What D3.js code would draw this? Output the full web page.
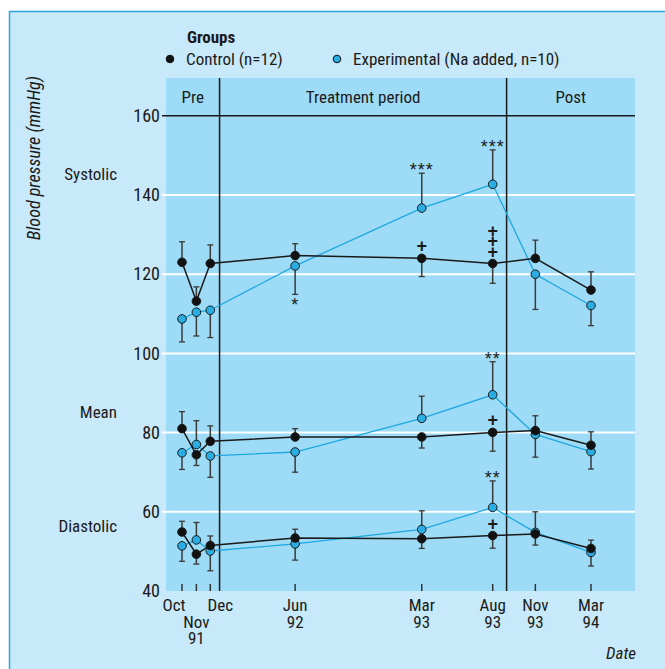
<!DOCTYPE html>
<html>
<head>
<meta charset="utf-8">
<script src="https://cdn.jsdelivr.net/npm/d3@7"></script>
<style>
  body { margin: 0; background: #fff; }
  svg text { font-family: "Liberation Sans Narrow", "Arial Narrow", "Roboto Condensed", sans-serif; fill: #1a1a1a; }
</style>
</head>
<body>
<div id="chart"></div>
<script>
/* Blood pressure of control vs experimental groups, Oct 91 - Mar 94 */

// dates of the measurements
var dates = ["1991-10", "1991-11", "1991-12", "1992-06", "1993-03", "1993-08", "1993-11", "1994-03"];

// x tick labels, one list of lines per date ("" = empty row)
var tickLabels = [["Oct"], ["", "Nov", "91"], ["Dec"], ["Jun", "92"], ["Mar", "93"], ["Aug", "93"], ["Nov", "93"], ["Mar", "94"]];

var yTicks = [40, 60, 80, 100, 120, 140, 160];

// period boundaries and names
var periodBreaks = ["1991-12-21", "1993-08-31"];
var periodNames = ["Pre", "Treatment period", "Post"];

// systolic
var sysControl = [123.0, 113.2, 122.7, 124.7, 124.0, 122.7, 124.0, 116.0];
var sysControlSem = [5.2, 3.6, 4.7, 3.0, 4.6, 5.0, 4.6, 4.6];
var sysExp = [108.7, 110.4, 110.9, 122.1, 136.7, 142.7, 120.0, 112.1];
var sysExpSem = [5.8, 6.0, 6.9, 7.2, 8.8, 8.7, 8.9, 5.1];

// mean
var meanControl = [81.0, 74.4, 77.8, 78.9, 78.9, 80.05, 80.5, 76.8];
var meanControlSem = [4.3, 2.7, 3.9, 2.1, 2.8, 4.75, 3.75, 3.4];
var meanExp = [74.9, 77.0, 74.1, 75.1, 83.6, 89.55, 79.55, 75.2];
var meanExpSem = [4.2, 6.0, 5.4, 5.1, 5.6, 8.35, 5.75, 4.4];

// diastolic
var diaControl = [54.9, 49.3, 51.5, 53.4, 53.2, 54.0, 54.4, 50.75];
var diaControlSem = [2.7, 2.5, 2.4, 2.2, 2.45, 3.2, 2.8, 2.1];
var diaExp = [51.4, 52.9, 50.1, 51.9, 55.55, 61.1, 54.8, 49.75];
var diaExpSem = [3.9, 4.4, 5.0, 4.1, 4.7, 6.7, 5.2, 3.45];

var rowNames = ["Systolic", "Mean", "Diastolic"];

// significance marks: * = vs control, + = vs baseline
var expMarks = [{row: 0, i: 3, text: "*"}, {row: 0, i: 4, text: "***"}, {row: 0, i: 5, text: "***"},
                {row: 1, i: 5, text: "**"}, {row: 2, i: 5, text: "**"}];
var controlMarks = [{row: 0, i: 4, n: 1}, {row: 0, i: 5, n: 3}, {row: 1, i: 5, n: 1}, {row: 2, i: 5, n: 1}];

var legendNames = ["Control (n=12)", "Experimental (Na added, n=10)"];

// colours
var panelFill = "#c8e9f9", plotFill = "#9ddbf6", blue = "#1ea8e1", dotBlue = "#2aade3";

var W = 665, H = 669;
var plot = {left: 166, right: 635, top: 78, bottom: 591};

var parseMonth = d3.timeParse("%Y-%m");
var parseDay = d3.timeParse("%Y-%m-%d");
var dateVals = dates.map(parseMonth);

var x = d3.scaleTime()
    .domain([dateVals[0], dateVals[dateVals.length - 1]])
    .range([182, 591]);
var y = d3.scaleLinear().domain([40, 160]).range([591, 115.8]);

var svg = d3.select("#chart").append("svg")
    .attr("width", W)
    .attr("height", H);

// outer panel
svg.append("rect")
    .attr("x", 9.5).attr("y", 11.5)
    .attr("width", 700).attr("height", 700)
    .attr("fill", panelFill)
    .attr("stroke", "#2aa7df")
    .attr("stroke-width", 1.5);

// plot area (including header band)
svg.append("rect")
    .attr("x", plot.left).attr("y", plot.top)
    .attr("width", plot.right - plot.left)
    .attr("height", plot.bottom - plot.top)
    .attr("fill", plotFill);

// white gridlines
svg.append("g").selectAll("line")
    .data(yTicks.filter(function(d) { return d > 40 && d < 160; }))
    .enter().append("line")
    .attr("x1", 162).attr("x2", plot.right)
    .attr("y1", function(d) { return y(d); })
    .attr("y2", function(d) { return y(d); })
    .attr("stroke", "#fff")
    .attr("stroke-width", 2);

// header line at 160
svg.append("line")
    .attr("x1", 162).attr("x2", plot.right)
    .attr("y1", y(160)).attr("y2", y(160))
    .attr("stroke", "#1a1a1a").attr("stroke-width", 1.5);

// period dividers
var breaks = periodBreaks.map(parseDay);
svg.append("g").selectAll("line")
    .data(breaks)
    .enter().append("line")
    .attr("x1", function(d) { return x(d); })
    .attr("x2", function(d) { return x(d); })
    .attr("y1", plot.top).attr("y2", plot.bottom)
    .attr("stroke", "#1a1a1a").attr("stroke-width", 1.5);

// period names
var edges = [plot.left, x(breaks[0]), x(breaks[1]), plot.right];
svg.append("g").selectAll("text")
    .data(periodNames)
    .enter().append("text")
    .attr("x", function(d, i) { return (edges[i] + edges[i + 1]) / 2; })
    .attr("y", 103)
    .attr("text-anchor", "middle")
    .style("font-size", "17px")
    .text(function(d) { return d; });

// Y axis labels
var yAxis = svg.append("g")
    .attr("transform", "translate(" + 166 + ",0)")
    .call(d3.axisLeft(y).tickValues(yTicks).tickSize(0).tickPadding(6));
yAxis.select(".domain").remove();
yAxis.selectAll("text")
    .style("font-size", "18px")
    .style("font-family", null);

// bottom ticks
svg.append("g").selectAll("line")
    .data(dateVals)
    .enter().append("line")
    .attr("x1", function(d) { return x(d); })
    .attr("x2", function(d) { return x(d); })
    .attr("y1", plot.bottom - 7).attr("y2", plot.bottom)
    .attr("stroke", "#333").attr("stroke-width", 1.5);

// x tick labels
var labelShift = [-8, 0, 10, 0, 0, 0, 0, 0];
var xLab = svg.append("g").selectAll("text")
    .data(tickLabels)
    .enter().append("text")
    .attr("x", function(d, i) { return x(dateVals[i]) + labelShift[i]; })
    .attr("y", 611)
    .attr("text-anchor", "middle")
    .style("font-size", "17px");
xLab.each(function(lines) {
  var t = d3.select(this);
  lines.forEach(function(s, k) {
    t.append("tspan")
        .attr("x", t.attr("x"))
        .attr("y", 611 + k * 16.5)
        .text(s);
  });
});

// axis titles
svg.append("text")
    .attr("transform", "translate(40,158) rotate(-90)")
    .attr("text-anchor", "middle")
    .style("font-size", "18px")
    .style("font-style", "italic")
    .text("Blood pressure (mmHg)");

svg.append("text")
    .attr("x", 636).attr("y", 659)
    .attr("text-anchor", "end")
    .style("font-size", "17px")
    .style("font-style", "italic")
    .text("Date");

// row labels
var rowY = [180, 418, 532];
svg.append("g").selectAll("text")
    .data(rowNames)
    .enter().append("text")
    .attr("x", 117)
    .attr("y", function(d, i) { return rowY[i]; })
    .attr("text-anchor", "end")
    .style("font-size", "17px")
    .text(function(d) { return d; });

// legend
svg.append("text")
    .attr("x", 187).attr("y", 43)
    .style("font-size", "17px")
    .style("font-weight", "bold")
    .text("Groups");
var legX = [170, 337];
var leg = svg.append("g").selectAll("g")
    .data(legendNames)
    .enter().append("g")
    .attr("transform", function(d, i) { return "translate(" + legX[i] + ",59)"; });
leg.append("circle")
    .attr("r", 3.8)
    .attr("fill", function(d, i) { return i ? dotBlue : "#111"; })
    .attr("stroke", "#111")
    .attr("stroke-width", 1);
leg.append("text")
    .attr("x", 16).attr("y", 6)
    .style("font-size", "17px")
    .text(function(d) { return d; });

// series
var rows = [
  {control: sysControl, cSem: sysControlSem, exp: sysExp, eSem: sysExpSem},
  {control: meanControl, cSem: meanControlSem, exp: meanExp, eSem: meanExpSem},
  {control: diaControl, cSem: diaControlSem, exp: diaExp, eSem: diaExpSem}
];

var line = d3.line()
    .x(function(d, i) { return x(dateVals[i]); })
    .y(function(d) { return y(d); });

// the higher group's error bar points up, the lower one down
function barEnd(vals, sem, other, i) {
  return vals[i] >= other[i] ? vals[i] + sem[i] : vals[i] - sem[i];
}

rows.forEach(function(r) {
  var g = svg.append("g");
  var groups = [
    {vals: r.exp, sem: r.eSem, other: r.control, color: blue, fill: dotBlue, width: 1.3},
    {vals: r.control, sem: r.cSem, other: r.exp, color: "#1a1a1a", fill: "#111", width: 1.5}
  ];

  // error bars
  groups.forEach(function(s) {
    var eb = g.append("g").selectAll("g")
        .data(s.vals)
        .enter().append("g");
    eb.append("line")
        .attr("x1", function(d, i) { return x(dateVals[i]); })
        .attr("x2", function(d, i) { return x(dateVals[i]); })
        .attr("y1", function(d) { return y(d); })
        .attr("y2", function(d, i) { return y(barEnd(s.vals, s.sem, s.other, i)); })
        .attr("stroke", "#3a3a3a").attr("stroke-width", 1.5);
    eb.append("line")
        .attr("x1", function(d, i) { return x(dateVals[i]) - 3; })
        .attr("x2", function(d, i) { return x(dateVals[i]) + 3; })
        .attr("y1", function(d, i) { return y(barEnd(s.vals, s.sem, s.other, i)); })
        .attr("y2", function(d, i) { return y(barEnd(s.vals, s.sem, s.other, i)); })
        .attr("stroke", "#3a3a3a").attr("stroke-width", 1.3);
  });

  // lines
  groups.forEach(function(s) {
    g.append("path")
        .datum(s.vals)
        .attr("fill", "none")
        .attr("stroke", s.color)
        .attr("stroke-width", s.width)
        .attr("d", line);
  });

  // markers
  groups.forEach(function(s) {
    g.append("g").selectAll("circle")
        .data(s.vals)
        .enter().append("circle")
        .attr("cx", function(d, i) { return x(dateVals[i]); })
        .attr("cy", function(d) { return y(d); })
        .attr("r", 4.3)
        .attr("fill", s.fill)
        .attr("stroke", "#1a1a1a")
        .attr("stroke-width", 1);
  });
});

// significance marks on the experimental group
svg.append("g").selectAll("text")
    .data(expMarks)
    .enter().append("text")
    .attr("x", function(d) { return x(dateVals[d.i]); })
    .attr("y", function(d) {
      var r = rows[d.row];
      var end = y(barEnd(r.exp, r.eSem, r.control, d.i));
      var up = r.exp[d.i] >= r.control[d.i];
      return up ? end - 7 + 10 : end + 7 + 10;
    })
    .attr("text-anchor", "middle")
    .attr("letter-spacing", "1px")
    .style("font-family", "Liberation Sans, sans-serif")
    .style("font-size", "18px")
    .text(function(d) { return d.text; });

// + marks on the control group
controlMarks.forEach(function(m) {
  var r = rows[m.row];
  for (var k = 0; k < m.n; k++) {
    svg.append("text")
        .attr("x", x(dateVals[m.i]))
        .attr("y", y(r.control[m.i]) - 12 - k * 10.5 + 6)
        .attr("text-anchor", "middle")
        .style("font-family", "Liberation Sans, sans-serif")
        .style("font-size", "18px")
        .style("font-weight", "bold")
        .text("+");
  }
});
</script>
</body>
</html>
